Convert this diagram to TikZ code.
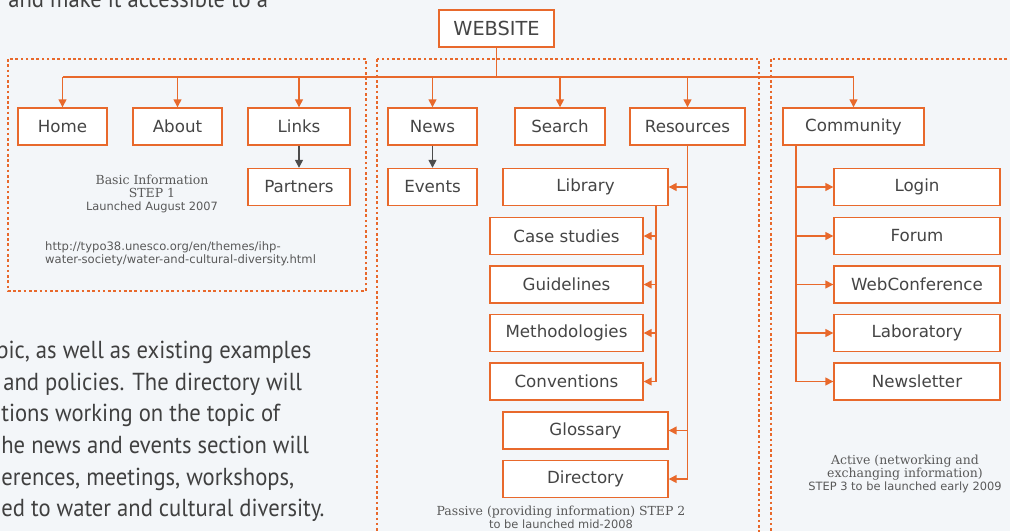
\documentclass[tikz,border=0pt]{standalone}
\usepackage{fontspec}
\setmainfont{DejaVu Sans}
\newfontfamily\labelserif{DejaVu Serif}
\newfontfamily\bodyfont[FakeStretch=0.92]{PT Sans}
\usetikzlibrary{arrows.meta}
\definecolor{webor}{HTML}{E8692C}
\definecolor{boxtext}{HTML}{454545}
\definecolor{paper}{HTML}{F3F6F9}
\newcommand{\serifline}[1]{{\labelserif\fontsize{7.1}{7.4}\selectfont #1}}

\begin{document}
\begin{tikzpicture}[x=0.02cm,y=-0.02cm,
    box/.style={draw=webor,fill=white,line width=0.8pt,text=boxtext,inner sep=0pt,
      minimum height=0.74cm,font=\fontsize{9.5}{11}\selectfont},
    link/.style={draw=webor,line width=0.8pt},
    arr/.style={link,-{Triangle[length=4.5pt,width=4.5pt]}},
    darr/.style={draw=black!70,line width=0.8pt,-{Triangle[length=4.5pt,width=4.5pt]}},
    group/.style={draw=webor,line width=0.6pt,dash pattern=on 1.5pt off 1.5pt},
    note/.style={text=black!65,align=center,font=\fontsize{6.5}{7.4}\selectfont},
    body/.style={anchor=base west,inner sep=0pt,text=black!75,font=\bodyfont\fontsize{14}{16}\selectfont}]
    \useasboundingbox (0,0) rectangle (1010,531);
    \fill[paper] (0,0) rectangle (1010,531);
    \clip (0,0) rectangle (1010,531);
    \draw[group] (8,59) rectangle (366,291);
    \draw[group] (377,59) rectangle (759,545);
    \draw[group] (771,59) rectangle (1025,545);
    \node[body] (top) at (8,7) {and make it accessible to a};
    \foreach \y/\dx/\txt [count=\i] in {358/-4/{pic, as well as existing examples},
      390/3/{and policies. The directory will},421/1/{tions working on the topic of},
      453/1/{he news and events section will},485/1/{erences, meetings, workshops,},
      516/1/{ed to water and cultural diversity.}}
    \node[body] (par\i) at (\dx,\y) {\txt};
    \node[box,minimum width=2.3cm,font=\fontsize{11}{13}\selectfont] (web) at (496.5,28.5) {WEBSITE};
    \node[box,minimum width=1.78cm] (home) at (62.5,126.5) {Home};
    \node[box,minimum width=1.78cm] (about) at (177.5,126.5) {About};
    \node[box,minimum width=2.04cm] (links) at (299,126.5) {Links};
    \node[box,minimum width=2.04cm] (partners) at (299,187) {Partners};
    \node[box,minimum width=1.78cm] (news) at (432.5,126.5) {News};
    \node[box,minimum width=1.78cm] (events) at (432.5,187) {Events};
    \node[box,minimum width=1.8cm] (search) at (560,126.5) {Search};
    \node[box,minimum width=2.3cm] (res) at (687.5,126.5) {Resources};
    \node[box,minimum width=3.3cm] (lib) at (585.5,187) {Library};
    \foreach \name/\txt/\y in {case/Case studies/236,guide/Guidelines/284.5,
      meth/Methodologies/333,conv/Conventions/381.5}
    \node[box,minimum width=3.06cm] (\name) at (566.5,\y) {\txt};
    \node[box,minimum width=3.3cm] (gloss) at (585.5,430.5) {Glossary};
    \node[box,minimum width=3.3cm] (dir) at (585.5,479) {Directory};
    \node[box,minimum width=2.82cm] (comm) at (853.5,126.5) {Community};
    \foreach \name/\txt/\y in {login/Login/187,forum/Forum/236,webconf/WebConference/284.5,
      lab/Laboratory/333,newsl/Newsletter/381.5}
    \node[box,minimum width=3.32cm] (\name) at (917,\y) {\txt};
    \coordinate (bus) at (496.5,77);
    \coordinate (libtr) at (656,205);
    \coordinate (commtr) at (796,145);
    \draw[link] (web.south) -- (bus);
    \draw[link] (bus -| home) -- (bus -| comm);
    \foreach \name in {home,about,links,news,search,res,comm}
    \draw[arr] (bus -| \name) -- (\name.north);
    \draw[darr] (links) -- (partners);
    \draw[darr] (news) -- (events);
    \draw[link] (res.south) -- (res.south |- dir.east);
    \foreach \name in {lib,gloss,dir}
    \draw[arr] (res.south |- \name.east) -- (\name.east);
    \draw[link] (libtr) -- (libtr |- conv.east);
    \foreach \name in {case,guide,meth,conv}
    \draw[arr] (libtr |- \name.east) -- (\name.east);
    \draw[link] (commtr) -- (commtr |- newsl.west);
    \foreach \name in {login,forum,webconf,lab,newsl}
    \draw[arr] (commtr |- \name.west) -- (\name.west);
    \node[note] (step1) at (152,194) {\serifline{Basic Information}\\\serifline{STEP 1}\\Launched August 2007};
    \node[note,align=left,anchor=north west,font=\fontsize{6.6}{7.4}\selectfont] (url) at (39,235)
      {http://typo38.unesco.org/en/themes/ihp-\\water-society/water-and-cultural-diversity.html};
    \node[note] (step2) at (561,517) {\serifline{Passive (providing information) STEP 2}\\to be launched mid-2008};
    \node[note] (step3) at (905,474) {\serifline{Active (networking and}\\\serifline{exchanging information)}\\STEP 3 to be launched early 2009};
  \end{tikzpicture}
\end{document}
